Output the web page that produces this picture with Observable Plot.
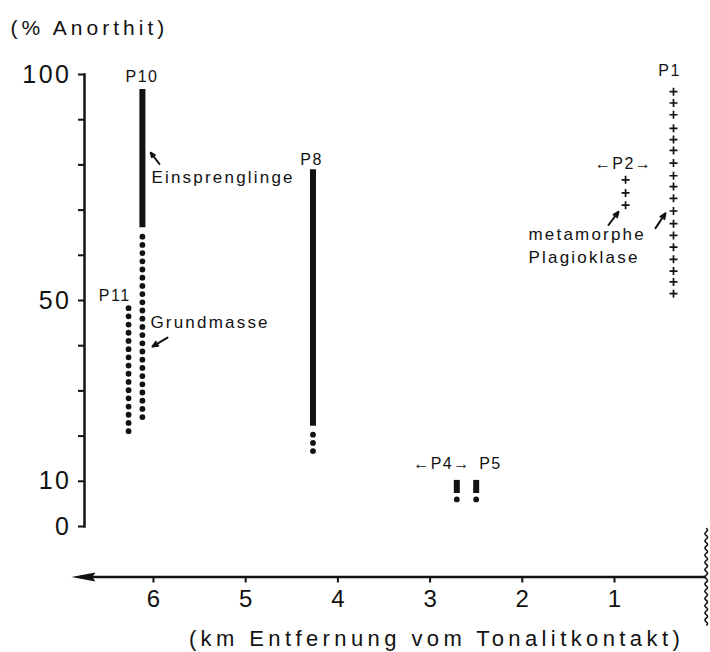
<!DOCTYPE html>
<html>
<head>
<meta charset="utf-8">
<script src="https://cdn.jsdelivr.net/npm/d3@7"></script>
<script src="https://cdn.jsdelivr.net/npm/@observablehq/plot@0.6"></script>
<style>
  html, body { margin: 0; padding: 0; background: #ffffff; }
  #chart { width: 710px; height: 652px; }
</style>
</head>
<body>
<div id="chart"></div>
<script>
// ---------- data ----------
// axis ticks
const yTicks = [0, 10, 20, 30, 40, 50, 60, 70, 80, 90, 100];
const yLabels = [0, 10, 50, 100];
const xTicks = [1, 2, 3, 4, 5, 6];

// Einsprenglinge (solid bars): profile, km, top %, bottom %
const einProfile = ["P10", "P8", "P4", "P5"];
const einKm = [6.12, 4.27, 2.71, 2.50];
const einTop = [96.7, 78.9, 10.2, 10.2];
const einBottom = [66.1, 22.2, 7.3, 7.3];

// Grundmasse (dotted ranges)
const grundProfile = ["P10", "P11", "P8"];
const grundKm = [6.12, 6.27, 4.27];
const grundTop = [64.0, 48.2, 20.2];
const grundBottom = [22.9, 19.6, 15.9];
// Grundmasse single points (P4, P5)
const grundPtProfile = ["P4", "P5"];
const grundPtKm = [2.71, 2.50];
const grundPtVal = [6.0, 6.0];

// metamorphe Plagioklase (+)
const p2Km = 0.88;
const p2Values = [76.7, 73.8, 71.1];
const p1Km = 0.36;
const p1Values = [96.2, 93.7, 91.1, 88.1, 85.6, 83.2, 80.4, 77.6, 75.2, 72.6,
                  69.8, 67.0, 64.4, 61.8, 59.1, 56.5, 54.1, 51.5];

// profile labels
const labelText = ["P10", "P11", "P8", "P1", "\u2190P2\u2192", "\u2190P4\u2192", "P5"];
const labelKm = [6.125, 6.42, 4.286, 0.403, 0.902, 2.871, 2.345];
const labelPct = [99.4, 51.1, 81.1, 100.7, 80.2, 13.8, 13.8];

// annotations
const annText = ["Einsprenglinge", "Grundmasse", "metamorphe", "Plagioklase"];
const annKm = [6.022, 6.033, 1.933, 1.933];
const annPct = [77.3, 45.1, 64.7, 59.6];

// annotation arrows (tail -> head)
const arrFromKm = [5.935, 5.848, 1.065, 0.555];
const arrFromPct = [80.2, 41.8, 66.7, 66.0];
const arrToKm = [6.03, 6.011, 0.957, 0.447];
const arrToPct = [82.7, 39.8, 69.6, 69.3];

const yTitle = "(% Anorthit)";
const xTitle = "(km Entfernung vom Tonalitkontakt)";

// axis geometry (in data units)
const xAxisAt = -11.2;      // % level of the horizontal distance axis
const xAxisEnd = 6.89;      // km where the arrow tip is

// ---------- build tables ----------
const ein = einKm.map((k, i) => ({p: einProfile[i], km: k, top: einTop[i], bottom: einBottom[i]}));
const grund = grundKm.map((k, i) => ({p: grundProfile[i], km: k, top: grundTop[i], bottom: grundBottom[i]}));
const grundPts = grundPtKm.map((k, i) => ({p: grundPtProfile[i], km: k, v: grundPtVal[i]}));
const meta = [
  ...p2Values.map(v => ({p: "P2", km: p2Km, v})),
  ...p1Values.map(v => ({p: "P1", km: p1Km, v}))
];
const labels = labelText.map((t, i) => ({t, km: labelKm[i], v: labelPct[i]}));
const anns = annText.map((t, i) => ({t, km: annKm[i], v: annPct[i]}));
const arrows = arrFromKm.map((k, i) => ({x1: k, y1: arrFromPct[i], x2: arrToKm[i], y2: arrToPct[i]}));

const ink = "#121212";

const arrowHead = {
  draw(context) {
    context.moveTo(0, 0);
    context.lineTo(24, -4.5);
    context.lineTo(21, 0);
    context.lineTo(24, 4.5);
    context.closePath();
  }
};

const plot = Plot.plot({
  width: 710,
  height: 652,
  marginLeft: 84,
  marginRight: 4,
  marginTop: 74,
  marginBottom: 126,
  style: {fontFamily: "'Liberation Sans', Arial, Helvetica, sans-serif", fontSize: "24px", background: "#ffffff", color: ink},
  x: {domain: [0, xAxisEnd], range: [706.2, 70.9], axis: null},
  y: {domain: [0, 100], axis: null},
  marks: [
    // y axis line + ticks
    Plot.frame({anchor: "left", stroke: ink, strokeWidth: 2.5}),
    Plot.axisY({
      ticks: yTicks,
      tickFormat: d => yLabels.includes(d) ? String(d) : "",
      tickSize: 6,
      tickPadding: 7,
      strokeWidth: 2,
      fontSize: 25
    }),
    // x axis arrow line
    Plot.ruleY([xAxisAt], {x1: 0, x2: xAxisEnd - 0.1, stroke: ink, strokeWidth: 2.5}),
    Plot.dot([xAxisAt], {x: () => xAxisEnd, y: d => d, symbol: arrowHead, fill: ink, stroke: "none"}),
    Plot.ruleX(xTicks, {x: d => d, y1: xAxisAt, y2: xAxisAt - 1.3, stroke: ink, strokeWidth: 2}),
    Plot.text(xTicks, {x: d => d, y: () => xAxisAt, dy: 22, text: d => String(d), fontSize: 24, fill: ink}),

    // Einsprenglinge bars
    Plot.ruleX(ein, {x: "km", y1: "top", y2: "bottom", stroke: ink, strokeWidth: 6}),
    // Grundmasse dotted
    Plot.ruleX(grund, {x: "km", y1: "top", y2: "bottom", stroke: ink, strokeWidth: 5.8,
      strokeLinecap: "round", strokeDasharray: "0,8.2"}),
    Plot.dot(grundPts, {x: "km", y: "v", r: 2.9, fill: ink, stroke: "none"}),
    // metamorphe plagioklase
    Plot.dot(meta, {x: "km", y: "v", symbol: "plus", r: 2.7, stroke: ink, strokeWidth: 1.7}),

    // annotation arrows
    Plot.arrow(arrows, {x1: "x1", y1: "y1", x2: "x2", y2: "y2", stroke: ink, strokeWidth: 2,
      headLength: 7, headAngle: 45}),

    // labels
    Plot.text(labels, {x: "km", y: "v", text: "t", fontSize: 16, fill: ink}),
    Plot.text(anns, {x: "km", y: "v", text: "t", fontSize: 17, textAnchor: "start", fill: ink}),

    // axis titles
    Plot.text([yTitle], {frameAnchor: "top-left", dx: -74, dy: -46, text: d => d, textAnchor: "start",
      lineAnchor: "middle", fontSize: 21, fill: ink}),
    Plot.text([xTitle], {frameAnchor: "bottom", dx: 41, dy: 112, text: d => d,
      lineAnchor: "middle", fontSize: 22, fill: ink})
  ]
});

document.getElementById("chart").appendChild(plot);

// letter spacing like the original lettering (matched by text content)
const spacing = new Map();
spacing.set(yTitle, "4px");
spacing.set(xTitle, "4.4px");
annText.forEach(t => spacing.set(t, "2.2px"));
labelText.forEach(t => spacing.set(t, "1.5px"));
yLabels.forEach(t => spacing.set(String(t), "2.5px"));
xTicks.forEach(t => spacing.set(String(t), "0px"));
d3.select(plot).selectAll("text").each(function() {
  const t = this.textContent;
  if (spacing.has(t)) {
    this.setAttribute("letter-spacing", spacing.get(t));
    this.style.letterSpacing = spacing.get(t);
  }
});

// wavy break line at the tonalite contact (decoration)
const svg = d3.select(plot);
const xs = plot.scale("x"), ys = plot.scale("y");
const wx = xs.apply(0), wy0 = ys.apply(-0.5), wy1 = ys.apply(-21.5);
let d = `M${wx},${wy0}`;
let s = 1;
for (let yy = wy0; yy < wy1; yy += 3.6) {
  d += ` Q${wx + s * 2.6},${yy + 1.8} ${wx},${yy + 3.6}`;
  s = -s;
}
svg.append("path").attr("d", d).attr("fill", "none").attr("stroke", ink).attr("stroke-width", 1.6);
</script>
</body>
</html>
